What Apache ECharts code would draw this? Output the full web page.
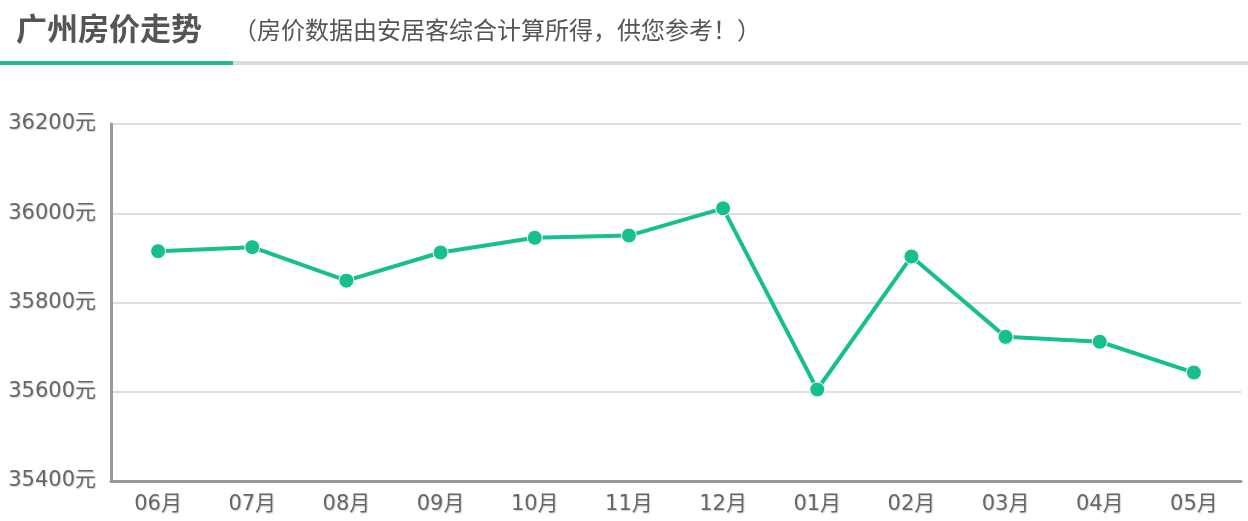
<!DOCTYPE html>
<html>
<head>
<meta charset="utf-8">
<title>广州房价走势</title>
<script src="https://cdn.jsdelivr.net/npm/echarts@6/dist/echarts.min.js"></script>
<style>
  html, body { margin: 0; padding: 0; background: #fff; }
  #main { width: 1248px; height: 521px; }
</style>
</head>
<body>
<div id="main"></div>
<script>
// 月份
const months = ['06月', '07月', '08月', '09月', '10月', '11月', '12月', '01月', '02月', '03月', '04月', '05月'];
// 均价（元/平米）
const prices = [35915, 35924, 35849, 35912, 35945, 35950, 36011, 35605, 35903, 35723, 35712, 35643];
// 纵轴范围
const yMin = 35400;
const yMax = 36200;
const yStep = 200;

const green = '#17bf8e';
const font = '"DejaVu Sans", "Noto Sans CJK SC", sans-serif';
const cjk = '"Noto Sans CJK SC", sans-serif';

var chart = echarts.init(document.getElementById('main'));
chart.setOption({
  backgroundColor: '#fff',
  animation: false,
  title: [
    {
      text: '广州房价走势',
      left: 11,
      top: 8,
      textStyle: { color: '#555', fontSize: 31, fontWeight: 'bold', fontFamily: cjk }
    },
    {
      text: '（房价数据由安居客综合计算所得，供您参考！）',
      left: 228,
      top: 13,
      textStyle: { color: '#555', fontSize: 24, fontWeight: 'normal', fontFamily: cjk }
    }
  ],
  // 标题下面的分隔线
  graphic: [
    { type: 'rect', shape: { x: 233, y: 61, width: 1015, height: 4 }, style: { fill: '#dcdcdc' } },
    { type: 'rect', shape: { x: 0, y: 61, width: 233, height: 4 }, style: { fill: '#22b892' } }
  ],
  grid: { left: 111, right: 7, top: 124, bottom: 40 },
  xAxis: {
    type: 'category',
    data: months,
    boundaryGap: true,
    axisLine: { lineStyle: { color: '#999', width: 3 } },
    axisTick: { alignWithLabel: true, length: 5, lineStyle: { color: '#c8d0d8' } },
    axisLabel: {
      color: '#666', fontSize: 21, margin: 13, fontFamily: font,
      textShadowColor: 'rgba(0,0,0,0.18)', textShadowBlur: 1, textShadowOffsetX: 1, textShadowOffsetY: 1
    }
  },
  yAxis: {
    type: 'value',
    min: yMin,
    max: yMax,
    interval: yStep,
    axisLine: { show: true, lineStyle: { color: '#999', width: 3 } },
    axisTick: { show: false },
    axisLabel: {
      color: '#666', fontSize: 21, margin: 15, fontFamily: font,
      padding: [6, 0, 0, 0],
      formatter: function (v) { return v + '元'; },
      textShadowColor: 'rgba(0,0,0,0.18)', textShadowBlur: 1, textShadowOffsetX: 1, textShadowOffsetY: 1
    },
    splitLine: { lineStyle: { color: '#d4d4d4', width: 1.5 } }
  },
  series: [
    {
      type: 'line',
      data: prices,
      symbol: 'circle',
      symbolSize: 15,
      lineStyle: { color: green, width: 4 },
      itemStyle: { color: green, borderColor: '#fff', borderWidth: 1 }
    }
  ]
});
</script>
</body>
</html>
